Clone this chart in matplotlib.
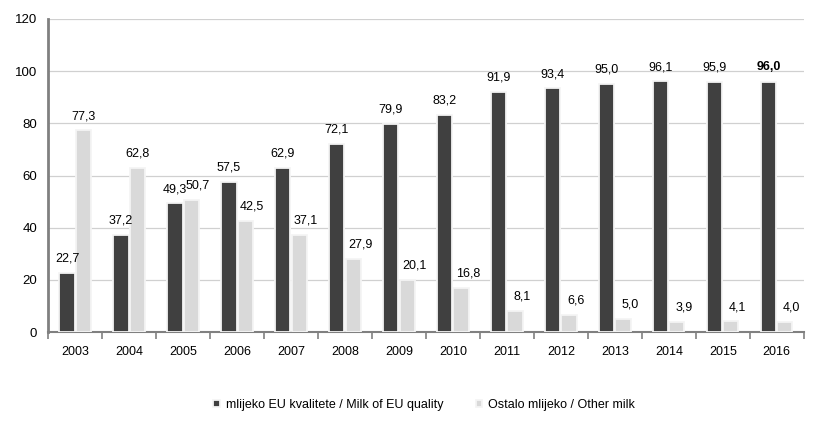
import numpy as np
import matplotlib.pyplot as plt

plt.rcParams['font.family'] = ['Liberation Sans', 'DejaVu Sans']

years = ['2003', '2004', '2005', '2006', '2007', '2008', '2009', '2010',
         '2011', '2012', '2013', '2014', '2015', '2016']
eu_quality = [22.7, 37.2, 49.3, 57.5, 62.9, 72.1, 79.9, 83.2,
              91.9, 93.4, 95.0, 96.1, 95.9, 96.0]
other_milk = [77.3, 62.8, 50.7, 42.5, 37.1, 27.9, 20.1, 16.8,
              8.1, 6.6, 5.0, 3.9, 4.1, 4.0]
labels = ['mlijeko EU kvalitete / Milk of EU quality', 'Ostalo mlijeko / Other milk']

dark = '#404040'
light = '#d9d9d9'

fig = plt.figure(figsize=(8.16, 4.22), dpi=100)
ax = fig.add_axes([0.059, 0.213, 0.926, 0.742])

x = np.arange(len(years))
w = 0.28
b1 = ax.bar(x - w / 2 - 0.01, eu_quality, w, color=dark, edgecolor='#f4f4f4',
            linewidth=1.3, zorder=3, label=labels[0])
b2 = ax.bar(x + w / 2 + 0.01, other_milk, w, color=light, edgecolor='#f4f4f4',
            linewidth=1.3, zorder=3, label=labels[1])

def fmt(v):
    return '{:.1f}'.format(v).replace('.', ',')

for i, (r1, r2) in enumerate(zip(b1, b2)):
    weight = 'bold' if i == len(years) - 1 else 'normal'
    ax.annotate(fmt(eu_quality[i]), (r1.get_x() + r1.get_width() / 2, r1.get_height()),
                xytext=(0, 6), textcoords='offset points', ha='center', va='bottom',
                fontsize=9, fontweight=weight, zorder=4)
    # labels of the light bars sit a little to the right once the bars get close
    dx = 0 if i < 2 else 5
    ax.annotate(fmt(other_milk[i]), (r2.get_x() + r2.get_width() / 2, r2.get_height()),
                xytext=(dx, 6), textcoords='offset points', ha='center', va='bottom',
                fontsize=9, zorder=4)

ax.set_xlim(-0.5, len(years) - 0.5)
ax.set_ylim(0, 120)
ax.set_yticks(range(0, 121, 20))
ax.set_xticks(x)
ax.set_xticklabels(years)
ax.set_xticks(np.arange(-0.5, len(years)), minor=True)
ax.tick_params(axis='x', which='major', length=0, pad=10, labelsize=9)
ax.tick_params(axis='x', which='minor', length=5, direction='out', color='#808080', width=1.2)
ax.tick_params(axis='y', length=0, pad=8, labelsize=9.5)

ax.grid(axis='y', color='#d0d0d0', linewidth=0.9, zorder=0)
ax.set_axisbelow(True)
for s in ['top', 'right']:
    ax.spines[s].set_visible(False)
ax.spines['left'].set_color('#808080')
ax.spines['left'].set_linewidth(2)
ax.spines['bottom'].set_color('#808080')
ax.spines['bottom'].set_linewidth(1.5)

fig.legend(handles=[b1, b2], labels=labels, loc='lower center', ncol=2,
           bbox_to_anchor=(0.52, 0.0), frameon=False, fontsize=9,
           handlelength=0.5, handleheight=0.5, handletextpad=0.5, columnspacing=2.6)

fig.savefig('out.png', dpi=100)
